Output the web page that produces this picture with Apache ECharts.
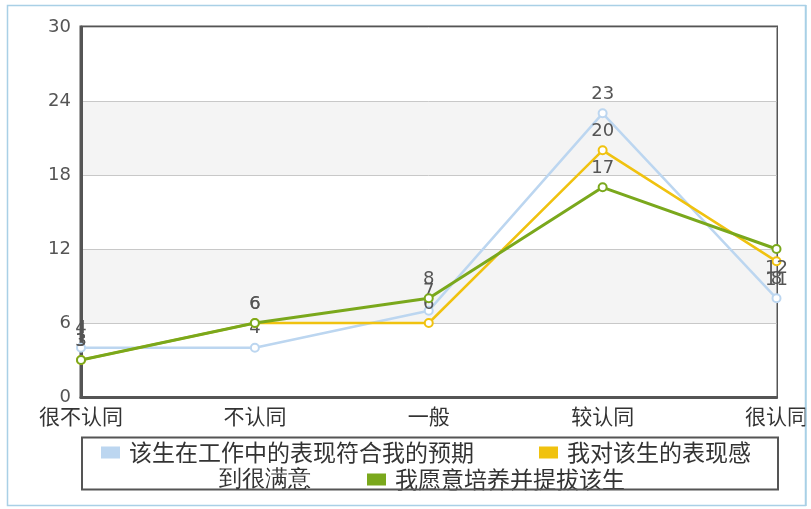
<!DOCTYPE html>
<html>
<head>
<meta charset="utf-8">
<script src="https://cdn.jsdelivr.net/npm/echarts@6/dist/echarts.min.js"></script>
<style>
html,body{margin:0;padding:0;background:#fff;}
#chart{width:811px;height:509px;}
</style>
</head>
<body>
<div id="chart"></div>
<script>
const categories = ['很不认同', '不认同', '一般', '较认同', '很认同'];
const seriesNames = ['该生在工作中的表现符合我的预期', '我对该生的表现感到很满意', '我愿意培养并提拔该生'];
const expectValues = [4, 4, 7, 23, 8];
const satisfiedValues = [3, 6, 6, 20, 11];
const promoteValues = [3, 6, 8, 17, 12];
const yTicks = { min: 0, max: 30, interval: 6 };

const lineColors = ['#bcd6f0', '#f0c20f', '#7aa81c'];
const iconColors = ['#a9c9ef', '#f7b70a', '#80ad00'];
const cjk = '"Noto Sans CJK SC", sans-serif';
const num = '"DejaVu Sans", sans-serif';

function mkSeries(i, values, width) {
  const last = values.length - 1;
  return {
    name: seriesNames[i],
    type: 'line',
    data: values.map(function (v, j) {
      return (i > 0 && j === last) ? { value: v, label: { position: 'bottom' } } : v;
    }),
    symbol: 'emptyCircle',
    symbolSize: 8,
    color: iconColors[i],
    lineStyle: { color: lineColors[i], width: width },
    itemStyle: { color: lineColors[i], borderColor: lineColors[i], borderWidth: 1.5 },
    label: { show: true, position: 'top', distance: 5, color: '#555', fontSize: 18, fontFamily: num },
    emphasis: { disabled: true },
    z: 3 + i
  };
}

const legendBase = {
  orient: 'horizontal',
  icon: 'rect',
  itemWidth: 17,
  itemHeight: 10,
  itemGap: 0,
  padding: 0,
  selectedMode: false,
  textStyle: { fontSize: 23, color: '#333', fontFamily: cjk, padding: [0, 0, 0, 5] }
};

const chart = echarts.init(document.getElementById('chart'), null, { renderer: 'canvas' });
chart.setOption({
  animation: false,
  backgroundColor: '#ffffff',
  grid: {
    left: 81, right: 33, top: 27, bottom: 112,
    show: true, borderColor: '#555', borderWidth: 3, backgroundColor: 'transparent'
  },
  xAxis: {
    type: 'category',
    data: categories,
    boundaryGap: false,
    axisLine: { show: true, lineStyle: { color: '#555', width: 3 } },
    axisTick: { show: false },
    axisLabel: { color: '#333', fontSize: 21, fontFamily: cjk, margin: 9, interval: 0 },
    splitLine: { show: false }
  },
  yAxis: {
    type: 'value',
    min: yTicks.min, max: yTicks.max, interval: yTicks.interval,
    axisLine: { show: true, lineStyle: { color: '#555', width: 3 } },
    axisTick: { show: false },
    axisLabel: { color: '#555', fontSize: 18, fontFamily: num, margin: 10 },
    splitLine: { show: true, lineStyle: { color: '#c8c8c8', width: 1 } },
    splitArea: { show: true, areaStyle: { color: ['#ffffff', '#f4f4f4'] } }
  },
  legend: [
    Object.assign({}, legendBase, { data: [seriesNames[0]], left: 101, top: 441 }),
    Object.assign({}, legendBase, { data: [seriesNames[1]], left: 539, top: 441,
      formatter: function (n) { return n.slice(0, 8); } }),
    Object.assign({}, legendBase, { data: [seriesNames[2]], left: 367, top: 468 })
  ],
  graphic: [
    { type: 'rect', z: -10, shape: { x: 7.5, y: 5.5, width: 798, height: 500 },
      style: { fill: '#ffffff', stroke: '#a9d0e6', lineWidth: 1.5 } },
    { type: 'rect', z: 50, shape: { x: 82, y: 437.5, width: 696, height: 52 },
      style: { fill: 'none', stroke: '#555', lineWidth: 2 } },
    { type: 'text', z: 50, left: 219, top: 468,
      style: { text: seriesNames[1].slice(8), fontSize: 23, fill: '#333', font: '23px ' + cjk } },
    { type: 'rect', z: 60, shape: { x: 806.5, y: 0, width: 5, height: 509 },
      style: { fill: '#ffffff', stroke: 'none' } },
    { type: 'line', z: 61, shape: { x1: 806, y1: 5, x2: 806, y2: 506 },
      style: { stroke: '#a9d0e6', lineWidth: 1.5 } }
  ],
  series: [
    mkSeries(0, expectValues, 2.5),
    mkSeries(1, satisfiedValues, 2.5),
    mkSeries(2, promoteValues, 3)
  ]
});
</script>
</body>
</html>
